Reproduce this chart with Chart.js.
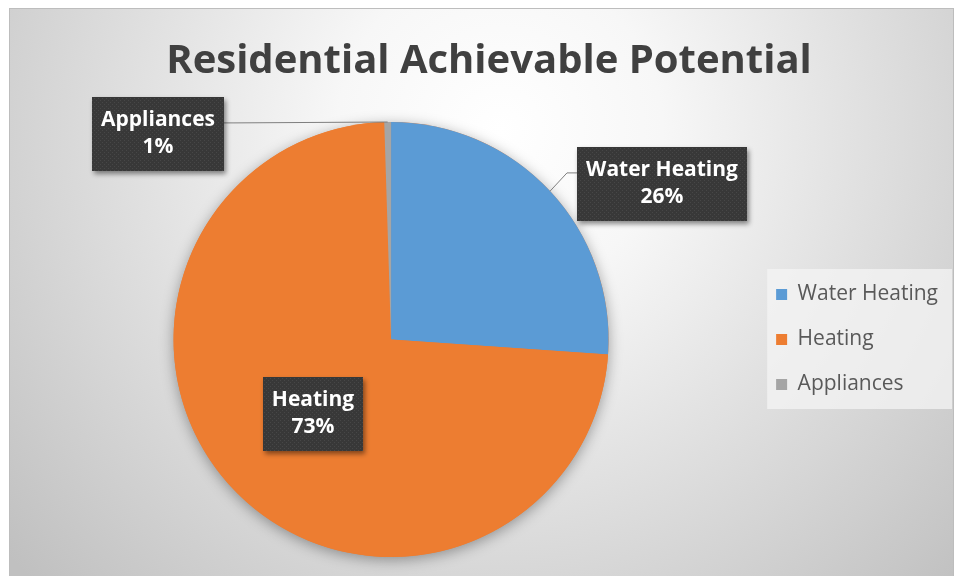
<!DOCTYPE html>
<html>
<head>
<meta charset="utf-8">
<title>Residential Achievable Potential</title>
<script src="https://cdn.jsdelivr.net/npm/chart.js@4.4.6/dist/chart.umd.min.js"></script>
<style>
  html, body { margin: 0; padding: 0; background: #fff; }
  canvas { display: block; }
</style>
</head>
<body>
<canvas id="chart" width="960" height="576"></canvas>
<script>
/* data (share of achievable potential, %) */
const categories = ["Water Heating", "Heating", "Appliances"];
const shares = [26.1, 73.4, 0.5];
const sliceColors = ["#5b9bd5", "#ed7d31", "#a5a5a5"];

const FONT = "'Open Sans', 'DejaVu Sans', sans-serif";
const total = shares.reduce((a, b) => a + b, 0);

/* dotted dark texture for the data label boxes */
function labelPattern(ctx) {
  const c = document.createElement('canvas');
  c.width = 4; c.height = 4;
  const p = c.getContext('2d');
  p.fillStyle = '#383838';
  p.fillRect(0, 0, 4, 4);
  p.fillStyle = '#474747';
  p.fillRect(0, 0, 1, 1);
  p.fillRect(2, 2, 1, 1);
  return ctx.createPattern(c, 'repeat');
}

/* background panel, legend panel and the soft pie shadow */
const backdrop = {
  id: 'backdrop',
  beforeDraw(chart) {
    const ctx = chart.ctx;
    ctx.save();
    ctx.fillStyle = '#fff';
    ctx.fillRect(0, 0, chart.width, chart.height);
    const g = ctx.createRadialGradient(500, 130, 0, 500, 130, 650);
    g.addColorStop(0, '#ffffff');
    g.addColorStop(0.25, '#f7f7f7');
    g.addColorStop(1, '#c0c0c0');
    ctx.fillStyle = g;
    ctx.fillRect(9, 8, 945, 568);
    ctx.strokeStyle = '#bdbdbd';
    ctx.lineWidth = 1;
    ctx.strokeRect(9.5, 8.5, 944, 575);

    const hb = chart.legend && chart.legend.legendHitBoxes;
    if (hb && hb.length) {
      const last = hb[hb.length - 1];
      const top = hb[0].top - 15;
      const bottom = last.top + last.height + 14;
      const left = hb[0].left - 9;
      ctx.fillStyle = 'rgba(244,244,244,0.75)';
      ctx.fillRect(left, top, 952 - left, bottom - top);
    }
    ctx.restore();
  },
  beforeDatasetsDraw(chart) {
    const arc = chart.getDatasetMeta(0).data[0];
    if (!arc) return;
    const ctx = chart.ctx;
    ctx.save();
    ctx.shadowColor = 'rgba(0,0,0,0.35)';
    ctx.shadowBlur = 14;
    ctx.shadowOffsetY = 3;
    ctx.beginPath();
    ctx.arc(arc.x, arc.y, arc.outerRadius, 0, Math.PI * 2);
    ctx.fillStyle = sliceColors[1];
    ctx.fill();
    ctx.restore();
  }
};

/* Excel-style callout labels: dark boxes, with leader lines when outside */
const callouts = {
  id: 'callouts',
  afterDatasetsDraw(chart, args, opts) {
    const ctx = chart.ctx;
    const meta = chart.getDatasetMeta(0);
    const fill = labelPattern(ctx);
    ctx.save();
    ctx.font = `bold ${opts.size}px ${FONT}`;
    meta.data.forEach((arc, i) => {
      const R = arc.outerRadius;
      const [ox, oy] = opts.offsets[i];
      const cx = arc.x + ox * R, cy = arc.y + oy * R;
      const lines = [categories[i], Math.round(shares[i] / total * 100) + '%'];
      const tw = Math.max(...lines.map(t => ctx.measureText(t).width));
      const w = Math.round(tw + opts.padX * 2);
      const h = Math.round(opts.lineH * 2 + opts.padY * 2);
      const left = Math.round(cx - w / 2), top = Math.round(cy - h / 2);

      /* leader line for labels placed off the pie */
      const dist = Math.hypot(cx - arc.x, cy - arc.y);
      if (dist > R) {
        const mid = (arc.startAngle + arc.endAngle) / 2;
        const px = arc.x + R * Math.cos(mid), py = arc.y + R * Math.sin(mid);
        const sideX = px > cx ? left + w : left;
        const elbowX = px > cx ? sideX + 10 : sideX - 10;
        const ay = top + h * 0.35;
        ctx.beginPath();
        ctx.moveTo(px, py);
        ctx.lineTo(elbowX, ay);
        ctx.lineTo(sideX, ay);
        ctx.strokeStyle = '#7f7f7f';
        ctx.lineWidth = 1;
        ctx.stroke();
      }

      ctx.save();
      ctx.shadowColor = 'rgba(0,0,0,0.45)';
      ctx.shadowBlur = 5;
      ctx.shadowOffsetX = 2;
      ctx.shadowOffsetY = 3;
      ctx.fillStyle = fill;
      ctx.fillRect(left, top, w, h);
      ctx.restore();

      ctx.fillStyle = '#ffffff';
      ctx.textAlign = 'center';
      ctx.textBaseline = 'middle';
      lines.forEach((t, k) => {
        ctx.fillText(t, left + w / 2, top + opts.padY + opts.lineH * (k + 0.5));
      });
    });
    ctx.restore();
  }
};

const ctx = document.getElementById('chart');

new Chart(ctx, {
  type: 'pie',
  data: {
    labels: categories,
    datasets: [{
      data: shares,
      backgroundColor: sliceColors,
      borderWidth: 0
    }]
  },
  options: {
    responsive: false,
    animation: false,
    devicePixelRatio: 1,
    layout: { padding: { left: 30, right: 12, top: 20, bottom: 19 } },
    plugins: {
      title: {
        display: true,
        text: 'Residential Achievable Potential',
        color: '#404040',
        font: { family: FONT, size: 40, weight: 'bold' },
        padding: { top: 18, bottom: 36 }
      },
      legend: {
        display: true,
        position: 'right',
        fullSize: false,
        labels: {
          boxWidth: 11,
          boxHeight: 11,
          padding: 24,
          color: '#595959',
          font: { family: FONT, size: 21 }
        }
      },
      tooltip: { enabled: false },
      callouts: {
        size: 21,
        lineH: 27,
        padX: 9,
        padY: 10,
        offsets: [[1.244, -0.715], [-0.361, 0.343], [-1.071, -0.945]]
      }
    }
  },
  plugins: [backdrop, callouts]
});
</script>
</body>
</html>
